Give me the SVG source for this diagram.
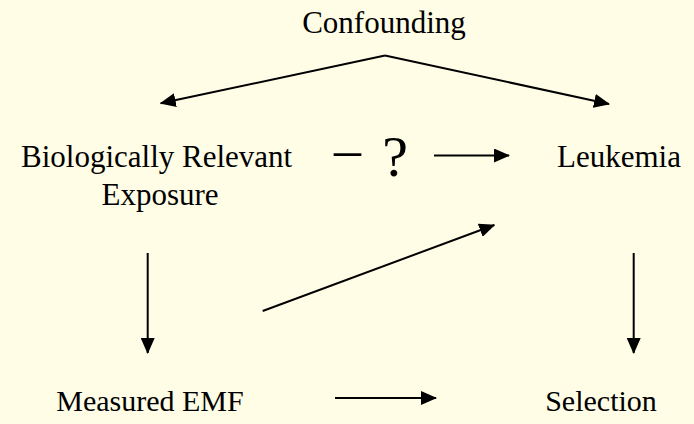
<svg xmlns="http://www.w3.org/2000/svg" width="694" height="424" viewBox="0 0 694 424">
<defs>
<marker id="ah" markerUnits="userSpaceOnUse" markerWidth="16" markerHeight="14" refX="15" refY="7" orient="auto">
<path d="M0,0 L16,7 L0,14 Z" fill="#000"/>
</marker>
<style>
text{font-family:'Liberation Serif','DejaVu Serif',serif;font-size:31px;fill:#000}
.sm{font-size:30px}
.c{stroke:#000;stroke-width:2;fill:none}
.a{marker-end:url(#ah)}
</style>
</defs>
<rect width="694" height="424" fill="#FFFDE6"/>
<g id="confounding"><text x="384" y="33" text-anchor="middle">Confounding</text></g>
<g id="exposure"><text x="21" y="167">Biologically Relevant</text><text x="160" y="205" text-anchor="middle">Exposure</text></g>
<g id="question"><text x="334" y="167" style="font-size:54px">–</text><text x="395" y="176" text-anchor="middle" style="font-size:58px">?</text></g>
<g id="leukemia"><text x="557" y="167">Leukemia</text></g>
<g id="measured"><text class="sm" x="150" y="411" text-anchor="middle">Measured EMF</text></g>
<g id="selection"><text class="sm" x="601" y="411" text-anchor="middle">Selection</text></g>
<g id="connectors">
<path class="c a" d="M385,55.5 L160.7,103.3"/>
<path class="c a" d="M385,55.5 L609,104"/>
<line class="c a" x1="434" y1="155.5" x2="509" y2="155.5"/>
<line class="c a" x1="147.7" y1="253" x2="147.7" y2="353"/>
<line class="c a" x1="633.7" y1="253" x2="633.7" y2="353"/>
<line class="c a" x1="262.7" y1="311" x2="494.3" y2="225"/>
<line class="c a" x1="335" y1="398" x2="436" y2="398"/>
</g>
</svg>
